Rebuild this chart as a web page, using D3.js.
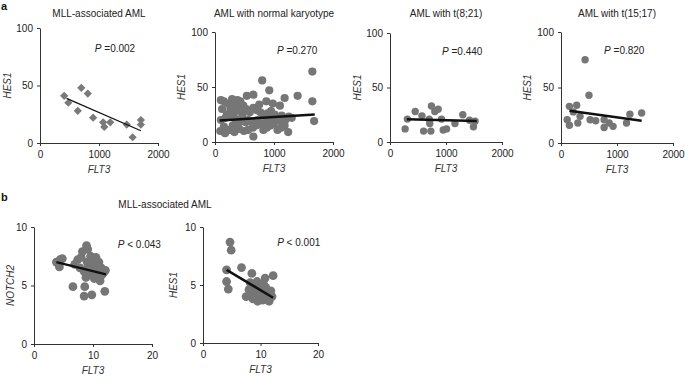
<!DOCTYPE html>
<html>
<head>
<meta charset="utf-8">
<script src="https://cdn.jsdelivr.net/npm/d3@7"></script>
<style>
  body { margin: 0; background: #fff; }
  svg { font-family: "Liberation Sans", Arial, sans-serif; }
  .axis path, .axis line { stroke: #333; stroke-width: 1; }
  .axis text { font-size: 10px; fill: #222; }
  .title { font-size: 10px; fill: #222; }
  .label { font-size: 10px; font-style: italic; fill: #333; }
  .pval { font-size: 10px; fill: #222; }
  .letter { font-size: 11px; font-weight: bold; fill: #111; }
</style>
</head>
<body>
<script>
var w = 685;
var h = 377;

// ---- data ----
// a: MLL-associated AML
const mllFlt3 = [410, 480, 700, 810, 640, 900, 1070, 1090, 1190, 1470, 1570, 1710, 1710];
const mllHes1 = [41, 35, 48, 43, 28, 22, 18, 14, 18, 16, 5, 20, 16];
const mllFitX = [450, 1710];
const mllFitY = [38.8, 10.6];

// a: AML with normal karyotype
const nkFlt3 = [100,150,220,290,330,380,430,480,120,260,310,350,400,450,
  100,180,270,340,410,470,530,590,650,710,770,830,890,950,1010,1070,1130,1190,1250,
  90,170,250,330,410,490,560,640,700,760,820,880,940,1000,1060,1120,1180,1240,1300,
  650,540,650,800,870,920,1180,1400,1650,1650,1680,1100,980,750,
  200,360,520,610,720,880,1050,1200,560,460,150,300,620,800,960,1140];
const nkHes1 = [38,37,35,39,36,38,37,33,30,30,33,28,32,28,
  20,22,24,21,18,26,30,27,31,29,27,24,26,28,25,22,24,20,23,
  10,8,11,9,12,10,11,13,15,17,11,13,15,17,11,13,15,9,22,
  5,42,43,56,37,47,40,42,64,37,19,33,35,34,
  25,20,18,19,20,19,20,21,20,23,14,15,19,17,21,18];
const nkFitX = [80, 1690];
const nkFitY = [19.5, 25];

// a: AML with t(8;21)
const t821Flt3 = [270, 310, 450, 570, 600, 710, 700, 730, 740, 800, 860, 920, 950, 1010, 1160, 1300, 1420, 1520, 1490];
const t821Hes1 = [12, 21, 28, 24, 10, 17, 21, 10, 33, 28, 30, 21, 11, 12, 17, 25, 20, 19, 14];
const t821FitX = [300, 1550];
const t821FitY = [20.8, 19.3];

// a: AML with t(15;17)
const t1517Flt3 = [110, 150, 150, 220, 280, 300, 340, 430, 500, 520, 620, 770, 770, 860, 930, 1170, 1230, 1440];
const t1517Hes1 = [21, 16, 33, 28, 34, 18, 24, 75, 43, 21, 20, 21, 14, 18, 15, 18, 26, 27];
const t1517FitX = [150, 1440];
const t1517FitY = [29, 20];

// b: MLL-associated AML, NOTCH2 vs FLT3
const bNotchFlt3 = [3.8,4.4,4.3,4.8,6.6,6.9,7.4,8.0,8.2,8.9,9.1,8.6,8.5,9.8,12.0,9.0,9.5,10.0,10.3,10.6,11.0,11.4,11.8,12.1,9.2,9.8,10.2,10.8,11.2,8.5,8.8,9.6,10.5,11.5,7.8,9.0];
const bNotch2 = [7.0,7.2,6.6,7.3,4.9,6.8,7.2,7.4,7.9,8.4,8.1,4.9,4.1,4.2,4.5,7.0,6.5,7.2,6.8,6.2,7.0,6.5,6.1,6.3,5.9,6.0,5.6,5.8,5.4,6.2,5.7,7.5,7.4,5.9,6.5,6.4];
const bNotchFitX = [3.8, 12.2];
const bNotchFitY = [7.0, 5.95];

// b: MLL-associated AML, HES1 vs FLT3
const bHesFlt3 = [4.7,4.9,4.1,4.1,4.4,6.7,8.5,10.8,12.2,7.5,8.0,8.3,8.7,9.0,9.2,9.5,9.8,10.0,10.2,10.4,10.6,10.9,11.2,11.5,11.8,12.0,8.6,9.4,10.5,11.0,9.6,8.2];
const bHes1 = [8.7,8.0,6.3,5.3,4.65,6.5,6.0,5.6,5.8,4.0,4.6,4.3,3.8,4.9,4.2,3.6,4.7,4.0,5.0,3.7,4.4,4.8,4.1,3.6,4.5,4.0,5.0,5.3,5.1,3.9,4.4,5.2];
const bHesFitX = [4.1, 12.2];
const bHesFitY = [6.3, 3.9];

const flt3Ticks = [0, 1000, 2000];
const hesTicks = [0, 50, 100];
const bXTicks = [0, 10, 20];
const bYTicks = [0, 5, 10];

// ---- layout ----
const panels = [
  { title: "MLL-associated AML", xs: mllFlt3, ys: mllHes1, fx: mllFitX, fy: mllFitY,
    xDom: [0, 2000], yDom: [0, 100], xt: flt3Ticks, yt: hesTicks,
    left: 40, right: 158, top: 28, bottom: 143, ylab: "HES1", ylabOff: 33,
    p: "=0.002", px: 930, py: 79, diamond: true, lw: 1.2 },
  { title: "AML with normal karyotype", xs: nkFlt3, ys: nkHes1, fx: nkFitX, fy: nkFitY,
    xDom: [0, 2000], yDom: [0, 100], xt: flt3Ticks, yt: hesTicks,
    left: 215, right: 333, top: 32, bottom: 142, ylab: "HES1", ylabOff: 34,
    p: "=0.270", px: 1050, py: 80, r: 4.1, lw: 2.5 },
  { title: "AML with t(8;21)", xs: t821Flt3, ys: t821Hes1, fx: t821FitX, fy: t821FitY,
    xDom: [0, 2000], yDom: [0, 100], xt: flt3Ticks, yt: hesTicks,
    left: 390, right: 502, top: 33, bottom: 142, ylab: "HES1", ylabOff: 33,
    p: "=0.440", px: 930, py: 80, r: 3.7, lw: 2.5 },
  { title: "AML with t(15;17)", xs: t1517Flt3, ys: t1517Hes1, fx: t1517FitX, fy: t1517FitY,
    xDom: [0, 2000], yDom: [0, 100], xt: flt3Ticks, yt: hesTicks,
    left: 561, right: 673, top: 32, bottom: 143, ylab: "HES1", ylabOff: 34,
    p: "=0.820", px: 770, py: 80, r: 3.7, lw: 2.5 },
  { title: null, xs: bNotchFlt3, ys: bNotch2, fx: bNotchFitX, fy: bNotchFitY,
    xDom: [0, 20], yDom: [0, 10], xt: bXTicks, yt: bYTicks,
    left: 34, right: 152, top: 227, bottom: 344, ylab: "NOTCH2", ylabOff: 24,
    p: "< 0.043", px: 14.2, py: 8.2, r: 4.4, lw: 2.5 },
  { title: null, xs: bHesFlt3, ys: bHes1, fx: bHesFitX, fy: bHesFitY,
    xDom: [0, 20], yDom: [0, 10], xt: bXTicks, yt: bYTicks,
    left: 203, right: 318, top: 227, bottom: 343, ylab: "HES1", ylabOff: 30,
    p: "< 0.001", px: 12.9, py: 8.4, r: 4.4, lw: 2.5 }
];

const svg = d3.select("body")
  .append("svg")
  .attr("width", w)
  .attr("height", h);

const drawPanel = p => {
  const xScale = d3.scaleLinear().domain(p.xDom).range([p.left, p.right]);
  const yScale = d3.scaleLinear().domain(p.yDom).range([p.bottom, p.top]);
  const g = svg.append("g");

  // axes (no thousands separator, like the original)
  g.append("g")
    .attr("class", "axis")
    .attr("transform", `translate(0, ${p.bottom})`)
    .call(d3.axisBottom(xScale).tickValues(p.xt).tickFormat(d3.format("d"))
      .tickSize(3).tickSizeOuter(0).tickPadding(5));

  g.append("g")
    .attr("class", "axis")
    .attr("transform", `translate(${p.left}, 0)`)
    .call(d3.axisLeft(yScale).tickValues(p.yt).tickFormat(d3.format("d"))
      .tickSize(3).tickSizeOuter(0).tickPadding(4));

  // points
  const pts = d3.zip(p.xs, p.ys);
  if (p.diamond) {
    g.selectAll("path.pt")
      .data(pts)
      .enter().append("path")
      .attr("class", "pt")
      .attr("d", d3.symbol(d3.symbolSquare, 34))
      .attr("transform", d => `translate(${xScale(d[0])}, ${yScale(d[1])}) rotate(45)`)
      .attr("fill", "#7a7a7a");
  } else {
    g.selectAll("circle")
      .data(pts)
      .enter().append("circle")
      .attr("cx", d => xScale(d[0]))
      .attr("cy", d => yScale(d[1]))
      .attr("r", p.r)
      .attr("fill", "#767676");
  }

  // regression line
  g.append("line")
    .attr("x1", xScale(p.fx[0]))
    .attr("x2", xScale(p.fx[1]))
    .attr("y1", yScale(p.fy[0]))
    .attr("y2", yScale(p.fy[1]))
    .attr("stroke", "#111")
    .attr("stroke-width", p.lw);

  // texts
  if (p.title) {
    g.append("text")
      .attr("class", "title")
      .attr("x", (p.left + p.right) / 2)
      .attr("y", 17)
      .attr("text-anchor", "middle")
      .text(p.title);
  }

  g.append("text")
    .attr("class", "label")
    .attr("x", (p.left + p.right) / 2)
    .attr("y", p.bottom + 30)
    .attr("text-anchor", "middle")
    .text("FLT3");

  g.append("text")
    .attr("class", "label")
    .attr("transform", `translate(${p.left - p.ylabOff}, ${(p.top + p.bottom) / 2}) rotate(-90)`)
    .attr("text-anchor", "middle")
    .attr("dy", "0.35em")
    .text(p.ylab);

  const pt = g.append("text")
    .attr("class", "pval")
    .attr("x", xScale(p.px))
    .attr("y", yScale(p.py));
  pt.append("tspan").attr("font-style", "italic").text("P");
  pt.append("tspan").text(" " + p.p);
};

panels.forEach(drawPanel);

// panel letters and section b title
svg.append("text").attr("class", "letter").attr("x", 1).attr("y", 10).text("a");
svg.append("text").attr("class", "letter").attr("x", 1).attr("y", 201).text("b");
svg.append("text")
  .attr("class", "title")
  .attr("x", 165)
  .attr("y", 208)
  .attr("text-anchor", "middle")
  .text("MLL-associated AML");
</script>
</body>
</html>
